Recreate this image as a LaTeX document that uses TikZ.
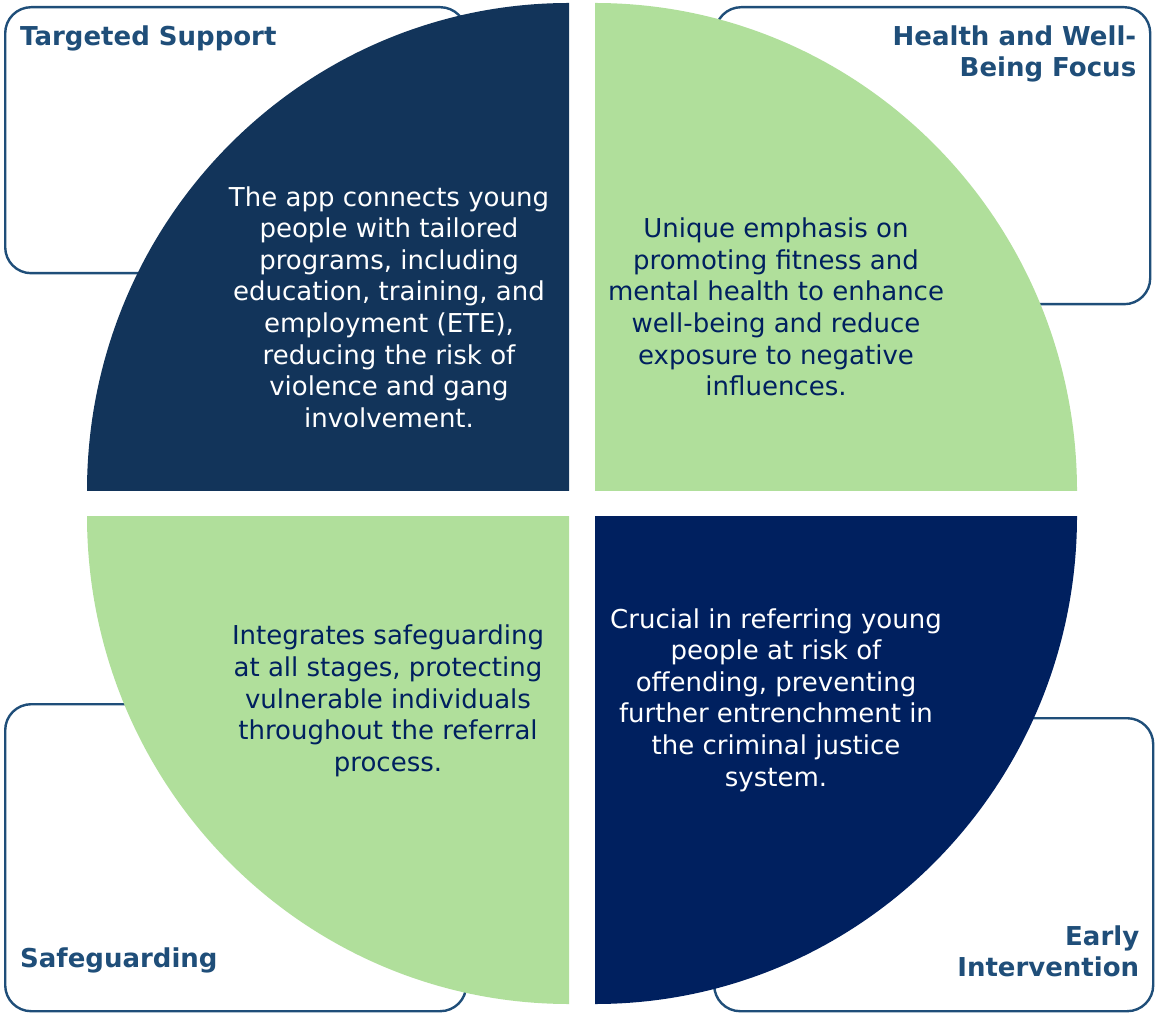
\documentclass[tikz,border=0pt]{standalone}
\usepackage{fontspec}
\setmainfont{DejaVu Sans}
\usetikzlibrary{positioning}
\definecolor{pienavy}{HTML}{12345A}
\definecolor{piedeep}{HTML}{00205F}
\definecolor{piegreen}{HTML}{B0DF9B}
\definecolor{boxblue}{HTML}{1F4E79}

\begin{document}
\begin{tikzpicture}[x=1pt, y=1pt,
  cornerbox/.style={draw=boxblue, line width=2.4pt, rounded corners=26pt, fill=white, inner sep=0pt, anchor=north west},
  title/.style={font=\bfseries\fontsize{26}{31}\selectfont, text=boxblue, inner sep=0pt},
  blurb/.style={font=\fontsize{26}{31.6}\selectfont, align=center, inner sep=0pt}]

\useasboundingbox (0,0) rectangle (1155,1013);

\node[cornerbox, minimum width=461pt, minimum height=266pt] (boxTS) at (4,1007) {};
\node[cornerbox, minimum width=435pt, minimum height=297pt] (boxHW) at (714,1007) {};
\node[cornerbox, minimum width=461pt, minimum height=307pt] (boxSG) at (4,310) {};
\node[cornerbox, minimum width=439pt, minimum height=293pt] (boxEI) at (713,296) {};

\coordinate (cTS) at (569,522);
\coordinate (cHW) at (595,522);
\coordinate (cSG) at (569,497);
\coordinate (cEI) at (595,497);

\fill[pienavy] (cTS) -- ++(0,488) arc[start angle=90, end angle=180, x radius=482, y radius=488] -- cycle;
\fill[piegreen] (cHW) -- ++(482,0) arc[start angle=0, end angle=90, x radius=482, y radius=488] -- cycle;
\fill[piegreen] (cSG) -- ++(-482,0) arc[start angle=180, end angle=270, x radius=482, y radius=488] -- cycle;
\fill[piedeep] (cEI) -- ++(0,-488) arc[start angle=270, end angle=360, x radius=482, y radius=488] -- cycle;

\node[title, anchor=north west] (tTS) at ([shift={(16,-20)}]boxTS.north west) {Targeted Support};
\node[title, anchor=north east, align=right] (tHW) at ([shift={(-15,-20)}]boxHW.north east) {Health and Well-\\Being Focus};
\node[title, anchor=base west] (tSG) at ([shift={(16,45)}]boxSG.south west) {Safeguarding};
\node[title, anchor=base east, align=right] (tEI) at ([shift={(-15,36)}]boxEI.south east) {Early\\Intervention};

\node[blurb, text=white] (bTS) at (389,706) {The app connects young\\people with tailored\\programs, including\\education, training, and\\employment (ETE),\\reducing the risk of\\violence and gang\\involvement.};
\node[blurb, text=piedeep] (bHW) at (776,706) {Unique emphasis on\\promoting fitness and\\mental health to enhance\\well-being and reduce\\exposure to negative\\influences.};
\node[blurb, text=piedeep] (bSG) at (388,312) {Integrates safeguarding\\at all stages, protecting\\vulnerable individuals\\throughout the referral\\process.};
\node[blurb, text=white] (bEI) at (776,313) {Crucial in referring young\\people at risk of\\offending, preventing\\further entrenchment in\\the criminal justice\\system.};

\end{tikzpicture}
\end{document}
